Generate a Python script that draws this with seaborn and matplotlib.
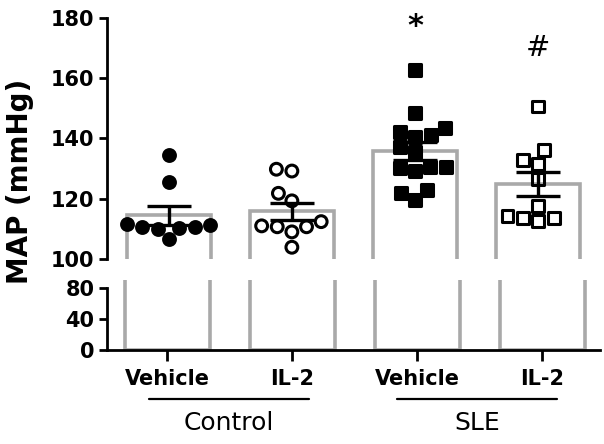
import numpy as np
import pandas as pd
import matplotlib
matplotlib.use("Agg")
import matplotlib.pyplot as plt
import matplotlib.transforms as mtransforms
import seaborn as sns

# ---- data (MAP, mmHg) ----
groups = ["Control Vehicle", "Control IL-2", "SLE Vehicle", "SLE IL-2"]
tick_labels = ["Vehicle", "IL-2", "Vehicle", "IL-2"]
ctrl_vehicle = [134.5, 125.7, 111.5, 110.5, 110.0, 110.2, 110.5, 111.3, 106.5]
ctrl_il2 = [129.8, 129.2, 119.3, 121.8, 110.7, 111.0, 110.7, 109.0, 112.4, 103.9]
sle_vehicle = [162.8, 148.4, 143.4, 141.2, 140.6, 142.3, 137.1, 135.4, 130.7,
               130.1, 129.2, 130.7, 122.9, 119.6, 122.0]
sle_il2 = [150.6, 136.2, 132.9, 131.6, 126.5, 117.7, 113.5, 112.7, 113.5, 114.3]
group_names = ["Control", "SLE"]
annotations = ["", "", "*", "#"]

series = [ctrl_vehicle, ctrl_il2, sle_vehicle, sle_il2]
df = pd.DataFrame({
    "group": np.repeat(groups, [len(s) for s in series]),
    "MAP": np.concatenate(series),
})

sns.set_style("white")
plt.rcParams["font.family"] = ["DejaVu Sans"]
plt.rcParams["text.color"] = "black"
plt.rcParams["axes.labelcolor"] = "black"
plt.rcParams["xtick.color"] = "black"
plt.rcParams["ytick.color"] = "black"

W, H = 604, 444
fig = plt.figure(figsize=(W / 100, H / 100), dpi=100)
left = 107 / W
width = 493 / W
ax_top = fig.add_axes([left, 1 - 259 / H, width, 241 / H])
ax_bot = fig.add_axes([left, 1 - 350 / H, width, 70 / H])

gray = "#a9a9a9"
for ax in (ax_top, ax_bot):
    sns.barplot(data=df, x="group", y="MAP", order=groups, errorbar=None,
                fill=False, color=gray, linewidth=2.6, width=0.68, ax=ax)
    ax.set_xlim(-0.48, 3.464)
    for sp in ("top", "right"):
        ax.spines[sp].set_visible(False)
    for sp in ("left", "bottom"):
        ax.spines[sp].set_linewidth(2.0)
        ax.spines[sp].set_color("black")
    ax.tick_params(axis="y", length=6, width=2.0, direction="out", left=True,
                   labelsize=15, pad=3, color="black", labelcolor="black")

# points
styles = [
    dict(marker="o", facecolor="black"),
    dict(marker="o", facecolor="none"),
    dict(marker="s", facecolor="black"),
    dict(marker="s", facecolor="none"),
]
for g, st in zip(groups, styles):
    sub = df[df["group"] == g]
    sns.swarmplot(data=sub, x="group", y="MAP", order=groups, ax=ax_top,
                  marker=st["marker"], color="black", facecolor=st["facecolor"],
                  edgecolor="black", linewidth=2.2, size=8.5, zorder=3,
                  warn_thresh=1.0)

# mean +/- SEM
means = df.groupby("group")["MAP"].mean().reindex(groups).values
sems = df.groupby("group")["MAP"].sem().reindex(groups).values
ax_top.errorbar(np.arange(len(groups)), means, yerr=sems, fmt="none",
                ecolor="black", elinewidth=2.4, capsize=16, capthick=2.4,
                zorder=5)

# top axis
ax_top.set_ylim(100, 180)
ax_top.set_yticks([100, 120, 140, 160, 180])
ax_top.spines["bottom"].set_visible(False)
ax_top.spines["left"].set_bounds(100, 180)
ax_top.set_xticks([])
ax_top.set_xlabel("")
ax_top.set_ylabel("")
for lab in ax_top.get_yticklabels():
    lab.set_fontweight("bold")

# bottom axis
ax_bot.set_ylim(0, 90.3)
ax_bot.set_yticks([0, 40, 80])
ax_bot.spines["left"].set_bounds(0, 80)
ax_bot.set_xticks(range(len(groups)))
ax_bot.set_xticklabels(tick_labels, fontsize=15, fontweight="bold")
ax_bot.tick_params(axis="x", length=8, width=2.0, direction="out",
                   bottom=True, pad=6, color="black", labelcolor="black")
ax_bot.set_xlabel("")
ax_bot.set_ylabel("")
for lab in ax_bot.get_yticklabels():
    lab.set_fontweight("bold")

# significance marks (placed above each group's highest point)
for i, txt in enumerate(annotations):
    if txt:
        y = max(series[i])
        if txt == "*":
            ax_top.text(i, y + 14.5, txt, ha="center", va="center",
                        clip_on=False, fontsize=22, fontweight="bold")
        else:
            ax_top.text(i, y + 19.5, txt, ha="center", va="center",
                        clip_on=False, fontsize=21)

# group brackets
trans = mtransforms.blended_transform_factory(ax_bot.transData, fig.transFigure)
ybar = 1 - 399 / H
ylab = 1 - 423 / H
spans = [(-0.144, 1.136), (1.84, 3.12)]
for name, (x0, x1) in zip(group_names, spans):
    ax_bot.plot([x0, x1], [ybar, ybar], color="black", lw=1.6,
                transform=trans, clip_on=False)
    ax_bot.text((x0 + x1) / 2, ylab, name, ha="center", va="center",
                fontsize=18, transform=trans)

fig.text(20 / W, 1 - 181 / H, "MAP (mmHg)", rotation=90, ha="center",
         va="center", fontsize=20, fontweight="bold")

fig.savefig("out.png", dpi=100)
